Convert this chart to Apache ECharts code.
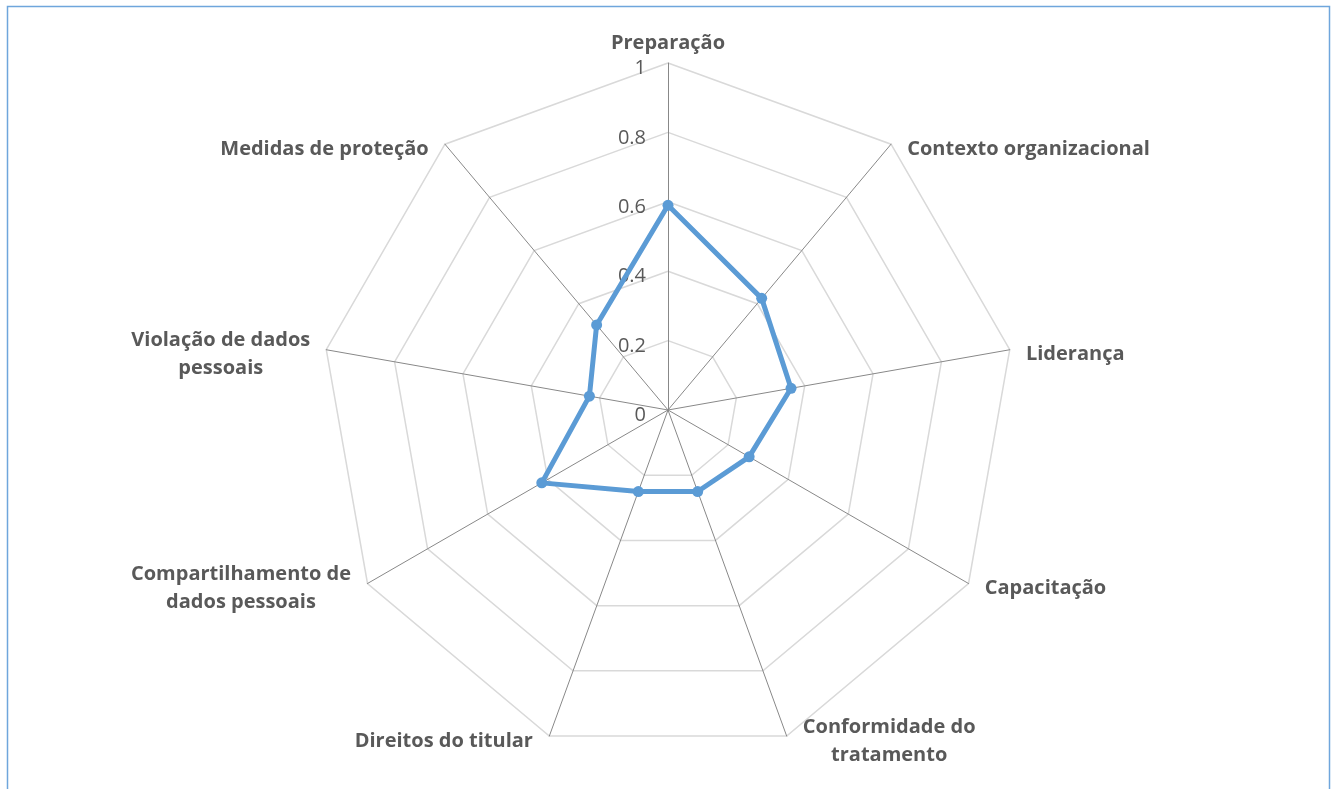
<!DOCTYPE html>
<html>
<head>
<meta charset="utf-8">
<script src="https://cdn.jsdelivr.net/npm/echarts@6/dist/echarts.min.js"></script>
<style>
  html, body { margin: 0; padding: 0; background: #fff; }
  #main { width: 1338px; height: 789px; }
</style>
</head>
<body>
<div id="main"></div>
<script>
// categories in the order they appear clockwise from the top
var categories = ['Preparação', 'Contexto organizacional', 'Liderança', 'Capacitação',
    'Conformidade do\ntratamento', 'Direitos do titular', 'Compartilhamento de\ndados pessoais',
    'Violação de dados\npessoais', 'Medidas de proteção'];
var values = [0.59, 0.42, 0.36, 0.27, 0.25, 0.25, 0.42, 0.23, 0.32];
var tickMax = 1;
var tickStep = 0.2;

var nameSize = 20;
var labelFont = 'bold ' + nameSize + 'px "Open Sans"';

// echarts radar goes counter-clockwise, so flip everything after the first item
function flip(arr) {
    return [arr[0]].concat(arr.slice(1).reverse());
}

// one rich style per name: fixed width so lines are centred, and a side gap like excel
var cv = document.createElement('canvas').getContext('2d');
cv.font = labelFont;
var rich = {
    gs: { lineHeight: 10, fontSize: 1 },   // pushes side labels a bit down
    gt: { lineHeight: 6, fontSize: 1 }     // small gap under the top label
};
categories.forEach(function (c, i) {
    var w = 0;
    c.split('\n').forEach(function (l) { w = Math.max(w, cv.measureText(l).width); });
    var ang = i * 360 / categories.length;
    var pad = [0, 0, 0, 0];
    if (i > 0 && ang < 180) pad = [0, 0, 0, 15];
    else if (ang > 180) pad = [0, 15, 0, 0];
    rich['n' + i] = { width: Math.ceil(w) + 2, align: 'center', padding: pad,
        fontFamily: 'Open Sans', fontWeight: 'bold', fontSize: nameSize,
        color: '#595959', lineHeight: 28 };
});

var indicator = flip(categories).map(function (c) {
    return { name: c, max: tickMax, min: 0 };
});

var dom = document.getElementById('main');
var myChart = echarts.init(dom);
var option = {
    animation: false,
    graphic: [{
        type: 'rect',
        shape: { x: 7.5, y: 6.5, width: 1322, height: 800 },
        style: { fill: 'none', stroke: '#6fa6dc', lineWidth: 1.5 },
        silent: true
    }],
    radar: {
        center: [668, 410],
        radius: 347,
        startAngle: 90,
        shape: 'polygon',
        splitNumber: 5,
        indicator: indicator,
        nameGap: 0,
        axisName: {
            color: '#595959',
            fontFamily: 'Open Sans',
            fontWeight: 'bold',
            fontSize: nameSize,
            rich: rich,
            formatter: function (name) {
                var i = categories.indexOf(name);
                var body = name.split('\n').map(function (l) { return '{n' + i + '|' + l + '}'; }).join('\n');
                if (i === 0) return body + '\n{gt| }';
                return '{gs| }\n' + body;
            }
        },
        axisLine: { lineStyle: { color: '#888888', width: 1 } },
        splitLine: { lineStyle: { color: '#d9d9d9', width: 1.5 } },
        splitArea: { show: false },
        axisTick: { show: false },
        axisLabel: { show: false }
    },
    polar: { center: [668, 410], radius: 347 },
    angleAxis: { show: false, startAngle: 90, min: 0, max: 360 },
    radiusAxis: {
        min: 0, max: tickMax, interval: tickStep,
        axisLine: { show: false },
        axisTick: { show: false },
        splitLine: { show: false },
        axisLabel: {
            margin: 22,
            formatter: function (v) { return '{v|' + v + '}'; },
            rich: {
                v: { color: '#595959', fontFamily: 'Open Sans', fontSize: 20,
                    padding: [11, 0, 0, 0] }
            }
        }
    },
    series: [{
        type: 'radar',
        symbol: 'circle',
        symbolSize: 11,
        lineStyle: { color: '#5b9bd5', width: 5 },
        itemStyle: { color: '#5b9bd5' },
        data: [{ value: flip(values), name: 'Série' }]
    }]
};
myChart.setOption(option, true);
</script>
</body>
</html>
